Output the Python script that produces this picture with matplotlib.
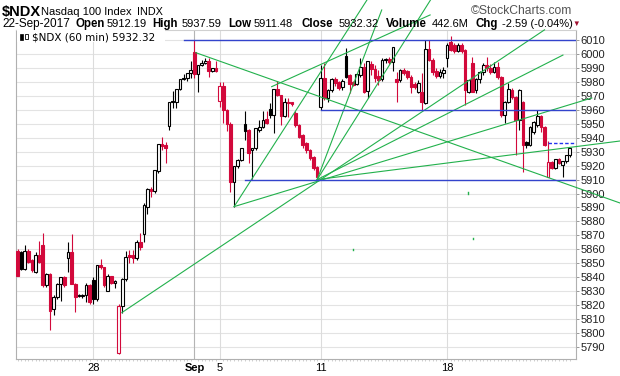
import matplotlib
matplotlib.use("Agg")
import matplotlib.pyplot as plt
from matplotlib.patches import Rectangle
import numpy as np

# hourly bars, 7 per session, Aug 23 .. Sep 22 2017 (Sep 4 holiday)
days = ["Aug 23", "Aug 24", "Aug 25", "Aug 28", "Aug 29", "Aug 30", "Aug 31", "Sep 1",
        "Sep 5", "Sep 6", "Sep 7", "Sep 8", "Sep 11", "Sep 12", "Sep 13", "Sep 14",
        "Sep 15", "Sep 18", "Sep 19", "Sep 20", "Sep 21", "Sep 22"]

opens = [5859, 5858, 5846, 5859, 5852, 5844, 5856,
         5863, 5834, 5842, 5817, 5826, 5835, 5840,
         5854, 5858, 5835, 5827, 5826.5, 5827, 5834,
         5838, 5824, 5849, 5847, 5830, 5841, 5836,
         5785.5, 5819, 5838.5, 5855.9, 5856, 5853.5, 5865.5,
         5870.7, 5890.5, 5903, 5902, 5916.5, 5935.3, 5935,
         5948.5, 5966.4, 5966, 5975, 5982, 5983, 5986.3,
         6001.8, 5985.6, 5992.3, 5993.9, 5995.1, 5988.2, 5989.9,
         5966.6, 5977.2, 5960, 5950, 5908, 5919.8, 5924.1,
         5949.9, 5945.6, 5931.2, 5932.4, 5945.6, 5947.5, 5953.5,
         5960.7, 5956.4, 5974.8, 5970.7, 5955.9, 5965.5, 5965.5,
         5958, 5949.2, 5942, 5936, 5931.2, 5926, 5918.8,
         5962.4, 5982.7, 5968.3, 5974.3, 5982.2, 5980.3, 5976.2,
         5998.7, 5985, 5980.3, 5978.6, 5985, 5990.6, 5973.6,
         5992.8, 5989.2, 5984.4, 5982, 5995.5, 5996.3, 5994.5,
         5982, 5981.5, 5988.7, 5988, 5984, 5978.6, 5973.1,
         5973, 5964.8, 6003.8, 5996, 5988, 5984.4, 5986.3,
         5997.1, 6009, 6006.6, 6002.6, 6006.6, 6003, 5973.1,
         5993.5, 5974.3, 5982, 5987, 5992.3, 5989.9, 5987.5,
         5991.1, 5983.9, 5956.4, 5965.9, 5974.3, 5969.5, 5952.8,
         5965.9, 5937.2, 5934.8, 5944.4, 5949, 5955.7, 5948,
         5912.2, 5922.9, 5918.1, 5924.6, 5920.5, 5923, 5927.7]
highs = [5860, 5859, 5863, 5860, 5853, 5858, 5866,
         5872, 5843, 5843, 5827, 5836, 5840, 5840.5,
         5865, 5871, 5836, 5828, 5828, 5836, 5835,
         5840, 5849, 5853, 5847, 5842, 5841, 5838,
         5821, 5839, 5859, 5859.5, 5859.5, 5866.6, 5871.4,
         5893, 5904, 5905, 5917, 5935.5, 5940.3, 5936.7,
         5965.5, 5973.6, 5975, 5982.5, 5985.8, 5986.7, 5995.4,
         6010.2, 5992.5, 5995.8, 5997, 5997, 5990, 5995,
         5980.3, 5980.3, 5961, 5951, 5920, 5924.5, 5933,
         5959.5, 5946, 5932.6, 5947, 5952.8, 5959.5, 5959.5,
         5964.7, 5975, 5981, 5971, 5968.3, 5968.3, 5966,
         5959, 5950, 5943, 5937, 5932, 5927, 5919.5,
         5992.3, 5993.5, 5975, 5983, 5984, 5981, 5982,
         6004.2, 5986, 5981, 5986, 5997.1, 5993.5, 5995.4,
         5995, 5992, 5988.7, 5997, 5997, 5998, 6005.4,
         5987.5, 5989.2, 5990, 5989, 5985, 5980, 5981.5,
         5986.3, 6010.2, 6010, 5997, 5990, 5989.5, 5991.1,
         6008, 6013.1, 6008, 6007.8, 6007.8, 6004, 5981.5,
         5998.3, 5983, 5988, 5994, 5998.3, 5993, 5994.7,
         5994.7, 5984.4, 5966.5, 5979.1, 5975.5, 5970, 5975,
         5966.5, 5938, 5948.5, 5952, 5960, 5956.5, 5948.5,
         5937.6, 5923.5, 5925, 5925.5, 5923.5, 5928, 5933]
lows = [5841, 5845, 5845, 5850, 5844, 5843, 5850,
        5833, 5833, 5802, 5813, 5824, 5823, 5833,
        5844, 5835, 5815, 5826, 5825, 5822, 5821,
        5821, 5823, 5846, 5833, 5830, 5835, 5832,
        5785, 5814.5, 5837, 5850.4, 5850.4, 5852.3, 5859.5,
        5865.4, 5885.3, 5897.7, 5900.6, 5915, 5931.2, 5922.2,
        5945.6, 5961.2, 5961.2, 5974, 5981.5, 5981, 5982.7,
        5983, 5972.6, 5991.5, 5993, 5984, 5987, 5987,
        5962, 5950.4, 5945, 5901, 5890.6, 5918, 5923,
        5938.4, 5921.7, 5910.2, 5931, 5944, 5947, 5950,
        5954, 5943.7, 5970, 5949.2, 5955, 5955.2, 5963,
        5948, 5940, 5933, 5929, 5924, 5917, 5910,
        5960, 5967, 5966, 5973, 5977, 5974, 5974,
        5982.7, 5972, 5977, 5978, 5984, 5972.5, 5968.3,
        5985, 5980, 5978, 5981, 5993.5, 5993, 5988.2,
        5966, 5980, 5985, 5982, 5972, 5975, 5972,
        5960, 5964.5, 5995, 5985, 5983, 5983, 5982.7,
        5990.6, 6002, 6001, 6001.5, 6001, 5963.6, 5971.9,
        5973, 5971.9, 5979, 5985, 5988, 5986, 5986.5,
        5982, 5955, 5950.4, 5965, 5968, 5927.7, 5945.6,
        5915.7, 5933, 5934, 5943, 5948, 5944, 5934,
        5911.5, 5917.5, 5917.5, 5921, 5911.5, 5922, 5926]
closes = [5841, 5846, 5859, 5851, 5845, 5856, 5851,
          5834, 5842, 5816, 5826, 5835, 5840, 5834,
          5858, 5835, 5826, 5826.5, 5827, 5834, 5822,
          5824, 5849, 5847, 5834, 5841, 5836, 5837,
          5819, 5838.5, 5854.7, 5854.5, 5853.5, 5865.5, 5861.8,
          5891.8, 5903, 5902, 5917, 5935.3, 5934, 5933,
          5965.5, 5965.5, 5974.8, 5982, 5983, 5986.5, 5988.7,
          5985.6, 5992.3, 5993.9, 5995.1, 5988.2, 5989.9, 5988,
          5977.2, 5960, 5950, 5908, 5919.8, 5924.1, 5932.4,
          5945.1, 5928.8, 5932.4, 5946.8, 5947.5, 5952.8, 5950.9,
          5956.4, 5974.8, 5970.7, 5955.9, 5965.5, 5964.7, 5964.5,
          5949.2, 5940.8, 5934.8, 5931.2, 5925.3, 5918.1, 5911.5,
          5982.7, 5968.3, 5974.3, 5982.2, 5979.1, 5975.5, 5980.8,
          5983.9, 5978.6, 5978.2, 5985.6, 5990.6, 5973.1, 5995.4,
          5989.2, 5982.7, 5981.5, 5995.5, 5996.3, 5994.5, 6005,
          5980.3, 5988.7, 5986.3, 5984, 5976.7, 5976.2, 5979.1,
          5966, 6003.8, 5995.9, 5987.5, 5984.4, 5987.5, 5989,
          6006.6, 6003, 6002.6, 6006.6, 6002.6, 5974.3, 5981.5,
          5973.1, 5982, 5987, 5992.3, 5989.9, 5987.5, 5991.1,
          5983.9, 5956.4, 5965.9, 5974.8, 5969.5, 5952.8, 5974.3,
          5934.8, 5934.8, 5948, 5951, 5955.7, 5948, 5934.9,
          5922.9, 5918.1, 5924.6, 5921.7, 5923, 5927.7, 5932.32]

# drawn annotations: (bar, price) start and end points
green_lines = [
    ((28.9, 5814.5), (146.0, 6017.5)),   # Aug 29 low through Sep 8 low
    ((83, 5910), (100.9, 6031.8)),       # fan from Sep 8 low
    ((83, 5910), (114.4, 6038.9)),
    ((83, 5910), (151.1, 5999.4)),
    ((83, 5910), (166.9, 5937.7)),
    ((60, 5890.6), (159.1, 5968.6)),     # Sep 5 low through Sep 8 low
    ((60, 5890.6), (96.8, 6038.9)),
    ((49.4, 6001.1), (166.9, 5893.2)),   # down line from Sep 1 high
    ((70.4, 5976.7), (114.3, 6028.2)),
]
green_dots = [(92.9, 5859.5), (124.8, 5900.4), (126.2, 5867.4)]
blue_levels = [(46, 6010), (84, 5960), (63, 5910)]

day_labels = {21: "28", 49: "Sep", 56: "5", 84: "11", 119: "18"}
yticks = list(range(5790, 6011, 10))

RED = "#d2093b"
GREEN = "#22b14c"
W, H = 620, 376
plt.rcParams["font.family"] = ["Liberation Sans", "DejaVu Sans"]
fig = plt.figure(figsize=(W / 100, H / 100), dpi=100)
ax = fig.add_axes([16 / W, 1 - 359 / H, (576.3 - 16) / W, (359 - 29.5) / H])

n = len(closes)
x = np.arange(n)
ax.set_xlim(-0.42, 154.8)
ax.set_ylim(5781.2, 6017.75)

# grid
for y in yticks:
    ax.axhline(y, color="#e3e3e3", lw=0.8, zorder=0)
for b, lab in day_labels.items():
    ax.axvline(b, color="#b4b4b4" if lab == "Sep" else "#dcdcdc", lw=0.8, zorder=0)

# candles (StockCharts style: hollow if up bar, red if close below prior close)
bw = 0.74
for i in range(n):
    o, h, l, c = opens[i], highs[i], lows[i], closes[i]
    prev = closes[i - 1] if i > 0 else c + 1
    col = "black" if c >= prev else RED
    top, bot = max(o, c), min(o, c)
    ax.vlines(i, top, h, color=col, lw=0.8, zorder=3)
    ax.vlines(i, l, bot, color=col, lw=0.8, zorder=3)
    hgt = max(top - bot, 0.4)
    if c >= o:
        ax.bar(i, hgt, bottom=bot, width=bw, facecolor="white", edgecolor=col, lw=0.8, zorder=4)
    else:
        ax.bar(i, hgt, bottom=bot, width=bw, facecolor=col, edgecolor=col, lw=0.8, zorder=4)

# annotations
for (x0, y0), (x1, y1) in green_lines:
    ax.plot([x0, x1], [y0, y1], color=GREEN, lw=0.8, zorder=5, clip_on=False)
for bx, by in green_dots:
    ax.plot([bx, bx], [by - 0.4, by + 0.4], color=GREEN, lw=1.0, zorder=5)
for b, lev in blue_levels:
    ax.plot([b, 154.8], [lev, lev], color="#3344cc", lw=1.0, zorder=5)
ax.plot([147, 154.8], [5936, 5936], color="#2233ee", lw=1.0, ls=(0, (2.5, 1.5)), zorder=5)

# axes styling
for s in ["left", "bottom", "right", "top"]:
    ax.spines[s].set_color("#b0b0b0")
ax.spines["top"].set_color("#d0d0d0")
ax.yaxis.tick_right()
ax.set_yticks(yticks)
ax.set_yticklabels([str(v) for v in yticks], fontsize=8, color="#222222")
ax.tick_params(axis="y", length=2, width=0.6, color="#888888", pad=1)
ax.set_xticks(list(day_labels.keys()))
ax.set_xticklabels(list(day_labels.values()), fontsize=8)
for t in ax.get_xticklabels():
    if t.get_text() == "Sep":
        t.set_fontweight("bold")
ax.tick_params(axis="x", length=0, pad=3)
ax.set_xticks(x, minor=True)
ax.tick_params(axis="x", which="minor", length=1.5, width=0.5, color="#bbbbbb")

# legend box inside chart
fig.patches.append(Rectangle((17 / W, 1 - 42 / H), 148 / W, 12 / H, transform=fig.transFigure,
                             facecolor="white", edgecolor="none", zorder=10))
fig.patches.append(Rectangle((20 / W, 1 - 40 / H), 3 / W, 6 / H, transform=fig.transFigure,
                             facecolor="black", edgecolor="black", lw=0.5, zorder=11))
fig.patches.append(Rectangle((25 / W, 1 - 39 / H), 3 / W, 5 / H, transform=fig.transFigure,
                             facecolor="white", edgecolor="black", lw=0.6, zorder=11))
fig.text(32 / W, 1 - 40 / H, "$NDX (60 min) 5932.32", fontsize=7.5, family="DejaVu Sans",
         va="baseline", ha="left", zorder=12)

# header
def ftext(px, py, s, **kw):
    fig.text(px / W, 1 - py / H, s, va="baseline", ha="left", **kw)

ftext(2, 16, "$NDX", fontsize=10.5, fontweight="bold")
ftext(41, 15, "Nasdaq 100 Index", fontsize=8)
ftext(137, 15, "INDX", fontsize=7.8)
fig.text(572 / W, 1 - 14 / H, "\u00a9StockCharts.com", fontsize=8.7, color="#555555",
         va="baseline", ha="right")
ftext(2, 27, "22-Sep-2017", fontsize=8.5)
parts = [(75, "Open", True), (107, "5912.19", False), (152, "High", True), (182, "5937.59", False),
         (228, "Low", True), (254, "5911.48", False), (302, "Close", True), (339, "5932.32", False),
         (386, "Volume", True), (432, "442.6M", False), (476, "Chg", True), (502, "-2.59 (-0.04%)", False)]
for px, s, bold in parts:
    ftext(px, 27, s, fontsize=8.3 if bold else 8, fontweight="bold" if bold else "normal")
ftext(572, 26, "\u25bc", fontsize=5.5, color="#a01030")

fig.savefig("out.png", dpi=100)
